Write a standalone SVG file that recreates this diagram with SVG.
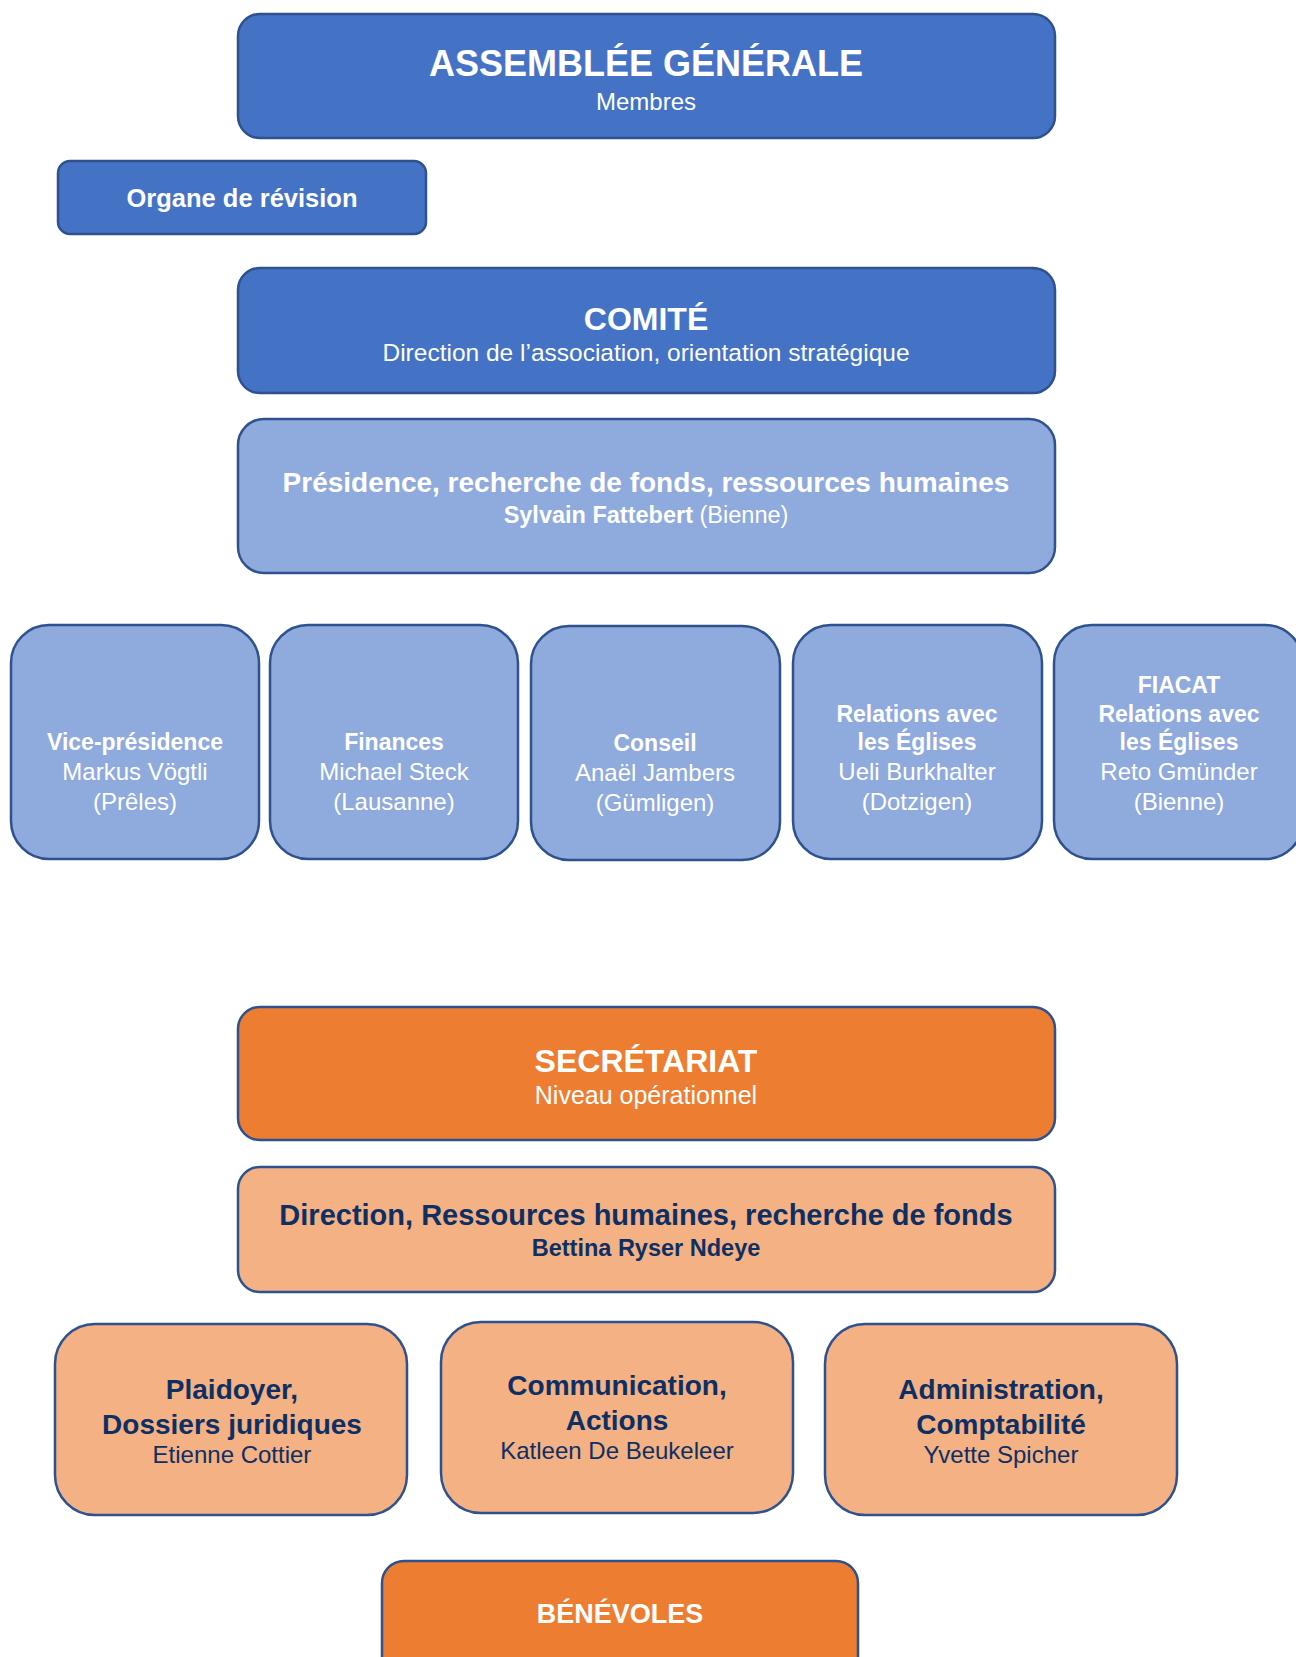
<svg xmlns="http://www.w3.org/2000/svg" width="1296" height="1657" viewBox="0 0 1296 1657">
<style>
  text { font-family: "Liberation Sans", Arial, sans-serif; text-anchor: middle; }
  .box { stroke: #2F528F; stroke-width: 2.5; }
  .dark { fill: #4472C4; }
  .light { fill: #8FAADC; }
  .orange { fill: #ED7D31; }
  .peach { fill: #F4B183; }
  .w { fill: #FFFFFF; }
  .n { fill: #0D2F63; }
  .b { font-weight: bold; }
</style>
<rect width="1296" height="1657" fill="#FFFFFF"/>
<g id="connectors"></g>

<g id="assemblee">
  <rect class="box dark" x="238" y="14" width="817" height="124" rx="22"/>
  <text class="w b" x="646" y="76" font-size="36">ASSEMBLÉE GÉNÉRALE</text>
  <text class="w" x="646" y="110" font-size="24">Membres</text>
</g>

<g id="organe">
  <rect class="box dark" x="58" y="161" width="368" height="73" rx="12"/>
  <text class="w b" x="242" y="207" font-size="25.5">Organe de révision</text>
</g>

<g id="comite">
  <rect class="box dark" x="238" y="268" width="817" height="125" rx="22"/>
  <text class="w b" x="646" y="330" font-size="32">COMITÉ</text>
  <text class="w" x="646" y="361" font-size="24.5">Direction de l’association, orientation stratégique</text>
</g>

<g id="presidence">
  <rect class="box light" x="238" y="419" width="817" height="154" rx="26"/>
  <text class="w b" x="646" y="492" font-size="28">Présidence, recherche de fonds, ressources humaines</text>
  <text class="w" x="646" y="523" font-size="23.5"><tspan font-weight="bold">Sylvain Fattebert</tspan> (Bienne)</text>
</g>

<g id="vice-presidence">
  <rect class="box light" x="11" y="625" width="248" height="234" rx="38"/>
  <text class="w b" x="135" y="750" font-size="23">Vice-présidence</text>
  <text class="w" x="135" y="780" font-size="24">Markus Vögtli</text>
  <text class="w" x="135" y="810" font-size="24">(Prêles)</text>
</g>

<g id="finances">
  <rect class="box light" x="270" y="625" width="248" height="234" rx="38"/>
  <text class="w b" x="394" y="750" font-size="23">Finances</text>
  <text class="w" x="394" y="780" font-size="24">Michael Steck</text>
  <text class="w" x="394" y="810" font-size="24">(Lausanne)</text>
</g>

<g id="conseil">
  <rect class="box light" x="531" y="626" width="249" height="234" rx="38"/>
  <text class="w b" x="655" y="751" font-size="23">Conseil</text>
  <text class="w" x="655" y="781" font-size="24">Anaël Jambers</text>
  <text class="w" x="655" y="811" font-size="24">(Gümligen)</text>
</g>

<g id="relations-eglises">
  <rect class="box light" x="793" y="625" width="249" height="234" rx="38"/>
  <text class="w b" x="917" y="722" font-size="23">Relations avec</text>
  <text class="w b" x="917" y="750" font-size="23">les Églises</text>
  <text class="w" x="917" y="780" font-size="24">Ueli Burkhalter</text>
  <text class="w" x="917" y="810" font-size="24">(Dotzigen)</text>
</g>

<g id="fiacat">
  <rect class="box light" x="1054" y="625" width="249" height="234" rx="38"/>
  <text class="w b" x="1179" y="693" font-size="23">FIACAT</text>
  <text class="w b" x="1179" y="722" font-size="23">Relations avec</text>
  <text class="w b" x="1179" y="750" font-size="23">les Églises</text>
  <text class="w" x="1179" y="780" font-size="24">Reto Gmünder</text>
  <text class="w" x="1179" y="810" font-size="24">(Bienne)</text>
</g>

<g id="secretariat">
  <rect class="box orange" x="238" y="1007" width="817" height="133" rx="22"/>
  <text class="w b" x="646" y="1072" font-size="32">SECRÉTARIAT</text>
  <text class="w" x="646" y="1104" font-size="25">Niveau opérationnel</text>
</g>

<g id="direction">
  <rect class="box peach" x="238" y="1167" width="817" height="125" rx="22"/>
  <text class="n b" x="646" y="1225" font-size="29">Direction, Ressources humaines, recherche de fonds</text>
  <text class="n b" x="646" y="1256" font-size="23.5">Bettina Ryser Ndeye</text>
</g>

<g id="plaidoyer">
  <rect class="box peach" x="55" y="1324" width="352" height="191" rx="40"/>
  <text class="n b" x="232" y="1399" font-size="28">Plaidoyer,</text>
  <text class="n b" x="232" y="1434" font-size="28">Dossiers juridiques</text>
  <text class="n" x="232" y="1463" font-size="24">Etienne Cottier</text>
</g>

<g id="communication">
  <rect class="box peach" x="441" y="1322" width="352" height="191" rx="40"/>
  <text class="n b" x="617" y="1395" font-size="28">Communication,</text>
  <text class="n b" x="617" y="1430" font-size="28">Actions</text>
  <text class="n" x="617" y="1459" font-size="24">Katleen De Beukeleer</text>
</g>

<g id="administration">
  <rect class="box peach" x="825" y="1324" width="352" height="191" rx="40"/>
  <text class="n b" x="1001" y="1399" font-size="28">Administration,</text>
  <text class="n b" x="1001" y="1434" font-size="28">Comptabilité</text>
  <text class="n" x="1001" y="1463" font-size="24">Yvette Spicher</text>
</g>

<g id="benevoles">
  <rect class="box orange" x="382" y="1561" width="476" height="130" rx="22"/>
  <text class="w b" x="620" y="1623" font-size="27">BÉNÉVOLES</text>
</g>
</svg>
